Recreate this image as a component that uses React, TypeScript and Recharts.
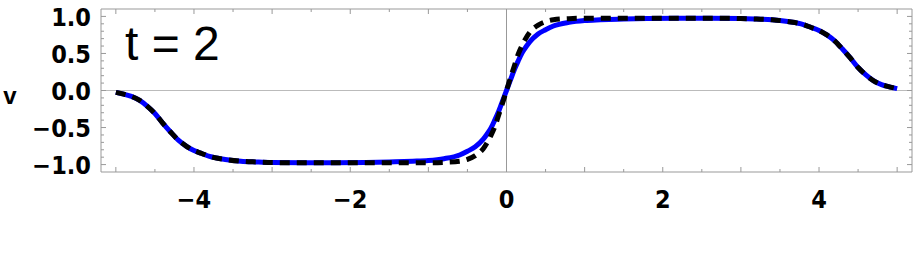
import React from "react";
import { LineChart, Line, XAxis, YAxis, ReferenceLine } from "recharts";

const X = [-5,-4.9,-4.8,-4.7,-4.6,-4.5,-4.4,-4.3,-4.2,-4.1,-4,-3.9,-3.8,-3.6,-3.4,-3.2,-3,-2.6,-2.2,-1.8,-1.5,-1.2,-1,-0.8,-0.6,-0.5,-0.4,-0.3,-0.25,-0.2,-0.15,-0.1,-0.05,0,0.05,0.1,0.15,0.2,0.25,0.3,0.4,0.5,0.6,0.8,1,1.2,1.5,1.8,2.2,2.6,3,3.2,3.4,3.6,3.8,3.9,4,4.1,4.2,4.3,4.4,4.5,4.6,4.7,4.8,4.9,5];

const BLUE = [-0.025,-0.05,-0.08,-0.13,-0.21,-0.31,-0.44,-0.56,-0.67,-0.75,-0.81,-0.85,-0.89,-0.93,-0.955,-0.965,-0.972,-0.975,-0.975,-0.972,-0.965,-0.955,-0.945,-0.92,-0.87,-0.82,-0.76,-0.66,-0.59,-0.51,-0.40,-0.28,-0.14,0,0.14,0.28,0.40,0.51,0.59,0.66,0.76,0.82,0.87,0.92,0.945,0.955,0.965,0.972,0.975,0.975,0.972,0.965,0.955,0.93,0.89,0.85,0.81,0.75,0.67,0.56,0.44,0.31,0.21,0.13,0.08,0.05,0.025];

const DASHED = [-0.025,-0.05,-0.08,-0.13,-0.21,-0.31,-0.44,-0.56,-0.67,-0.75,-0.81,-0.85,-0.89,-0.93,-0.955,-0.965,-0.972,-0.976,-0.976,-0.975,-0.975,-0.975,-0.975,-0.97,-0.955,-0.93,-0.88,-0.79,-0.71,-0.61,-0.49,-0.33,-0.17,0,0.17,0.33,0.49,0.61,0.71,0.79,0.88,0.93,0.955,0.97,0.975,0.975,0.975,0.975,0.976,0.976,0.972,0.965,0.955,0.93,0.89,0.85,0.81,0.75,0.67,0.56,0.44,0.31,0.21,0.13,0.08,0.05,0.025];

const X_TICKS = [-5,-4.5,-4,-3.5,-3,-2.5,-2,-1.5,-1,-0.5,0,0.5,1,1.5,2,2.5,3,3.5,4,4.5,5];
const X_LABELS: Record<string, string> = { "-4": "−4", "-2": "−2", "0": "0", "2": "2", "4": "4" };
const Y_TICKS = [-1.1,-1,-0.9,-0.8,-0.7,-0.6,-0.5,-0.4,-0.3,-0.2,-0.1,0,0.1,0.2,0.3,0.4,0.5,0.6,0.7,0.8,0.9,1,1.1];
const Y_LABELS: Record<string, string> = { "-1": "−1.0", "-0.5": "−0.5", "0": "0.0", "0.5": "0.5", "1": "1.0" };

const data = X.map((x, i) => ({ x, blue: BLUE[i], dashed: DASHED[i] }));

const FRAME = "#999999";
const FONT = "'Liberation Sans Narrow', 'DejaVu Sans Condensed', 'Liberation Sans', Arial, sans-serif";

const isMajorX = (v: number) => Math.abs(v - Math.round(v)) < 1e-6;
const isMajorY = (v: number) => Math.abs(v * 2 - Math.round(v * 2)) < 1e-6;

const BottomTick = (props: any) => {
  const { x, y, payload } = props;
  const v = payload.value;
  const len = isMajorX(v) ? 5 : 3;
  const lab = X_LABELS[String(v)];
  return (
    <g>
      <line x1={x} x2={x} y1={y} y2={y - len} stroke={FRAME} strokeWidth={1} />
      {lab !== undefined && (
        <text x={x} y={y + 27} textAnchor="middle" dominantBaseline="central" fontSize={25} fontWeight="bold" fontFamily={FONT} fill="#000">
          {lab}
        </text>
      )}
    </g>
  );
};

const TopTick = (props: any) => {
  const { x, y, payload } = props;
  const len = isMajorX(payload.value) ? 5 : 3;
  return <line x1={x} x2={x} y1={y} y2={y + len} stroke={FRAME} strokeWidth={1} />;
};

const LeftTick = (props: any) => {
  const { x, y, payload } = props;
  const v = payload.value;
  if (Math.abs(v) > 1.05) return <g />;
  const len = isMajorY(v) ? 5 : 3;
  const lab = Y_LABELS[String(v)];
  return (
    <g>
      <line x1={x} x2={x + len} y1={y} y2={y} stroke={FRAME} strokeWidth={1} />
      {lab !== undefined && (
        <text x={x - 10} y={y + 1} textAnchor="end" dominantBaseline="central" fontSize={25} fontWeight="bold" fontFamily={FONT} fill="#000">
          {lab}
        </text>
      )}
    </g>
  );
};

const RightTick = (props: any) => {
  const { x, y, payload } = props;
  const v = payload.value;
  if (Math.abs(v) > 1.05) return <g />;
  const len = isMajorY(v) ? 5 : 3;
  return <line x1={x} x2={x - len} y1={y} y2={y} stroke={FRAME} strokeWidth={1} />;
};

export default function App() {
  return (
    <div style={{ position: "absolute", left: 0, top: 0, width: 913, height: 264, background: "#fff" }}>
      <LineChart width={913} height={264} data={data} margin={{ top: 8, right: 0, bottom: 91, left: 100 }}>
        <XAxis
          xAxisId="b"
          dataKey="x"
          type="number"
          domain={[-5.19, 5.19]}
          allowDataOverflow
          ticks={X_TICKS}
          interval={0}
          height={1}
          tickSize={0}
          tickMargin={0}
          tickLine={false}
          axisLine={{ stroke: FRAME }}
          tick={<BottomTick />}
        />
        <XAxis
          xAxisId="t"
          orientation="top"
          dataKey="x"
          type="number"
          domain={[-5.19, 5.19]}
          allowDataOverflow
          ticks={X_TICKS}
          interval={0}
          height={1}
          tickSize={0}
          tickMargin={0}
          tickLine={false}
          axisLine={{ stroke: FRAME }}
          tick={<TopTick />}
        />
        <YAxis
          yAxisId="l"
          type="number"
          domain={[-1.1, 1.1]}
          allowDataOverflow
          ticks={Y_TICKS}
          interval={0}
          width={1}
          tickSize={0}
          tickMargin={0}
          tickLine={false}
          axisLine={{ stroke: FRAME }}
          tick={<LeftTick />}
        />
        <YAxis
          yAxisId="r"
          orientation="right"
          type="number"
          domain={[-1.1, 1.1]}
          allowDataOverflow
          ticks={Y_TICKS}
          interval={0}
          width={1}
          tickSize={0}
          tickMargin={0}
          tickLine={false}
          axisLine={{ stroke: FRAME }}
          tick={<RightTick />}
        />
        <ReferenceLine xAxisId="b" yAxisId="l" y={0} stroke="#bbbbbb" strokeWidth={1} />
        <ReferenceLine xAxisId="b" yAxisId="l" x={0} stroke="#999999" strokeWidth={1} />
        <Line
          xAxisId="b"
          yAxisId="l"
          type="monotone"
          dataKey="blue"
          stroke="#0000ff"
          strokeWidth={5}
          dot={false}
          isAnimationActive={false}
        />
        <Line
          xAxisId="b"
          yAxisId="l"
          type="monotone"
          dataKey="dashed"
          stroke="#000000"
          strokeWidth={5}
          strokeDasharray="10 7"
          dot={false}
          isAnimationActive={false}
        />
      </LineChart>
      <div style={{ position: "absolute", left: 0, top: 0, width: 913, height: 264, pointerEvents: "none" }}>
        <svg width={913} height={264}>
          <text x={125} y={60} fontSize={48} fontFamily="'Liberation Sans', Arial, sans-serif" fill="#000">t = 2</text>
          <text x={10} y={95} textAnchor="middle" dominantBaseline="central" fontSize={24} fontWeight="bold" fontFamily="'Liberation Sans', Arial, sans-serif" fill="#000">v</text>
        </svg>
      </div>
    </div>
  );
}
